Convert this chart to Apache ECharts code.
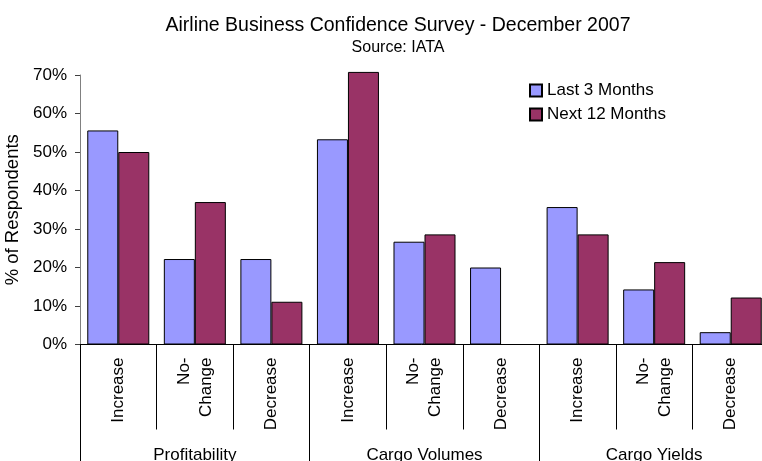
<!DOCTYPE html>
<html>
<head>
<meta charset="utf-8">
<script src="https://cdn.jsdelivr.net/npm/echarts@6/dist/echarts.min.js"></script>
<style>
html,body{margin:0;padding:0;background:#fff;}
#chart{width:762px;height:461px;}
</style>
</head>
<body>
<div id="chart"></div>
<script>
var categories = ['Increase','No-\nChange','Decrease','Increase','No-\nChange','Decrease','Increase','No-\nChange','Decrease'];
var groups = ['Profitability','Cargo Volumes','Cargo Yields'];
var last3Months = [55.6, 22.2, 22.2, 53.3, 26.7, 20.0, 35.7, 14.3, 3.2];
var next12Months = [50.0, 37.0, 11.1, 70.8, 28.6, null, 28.6, 21.4, 12.2];
var yTicks = {min: 0, max: 70, interval: 10};

var FONT = 'Liberation Sans, Arial, sans-serif';
var chart = echarts.init(document.getElementById('chart'), null, {renderer: 'canvas'});
chart.setOption({
  animation: false,
  backgroundColor: '#ffffff',
  textStyle: {fontFamily: FONT},
  title: {
    text: 'Airline Business Confidence Survey - December 2007',
    subtext: 'Source: IATA',
    left: 393, top: 11, textAlign: 'center',
    itemGap: 4,
    textStyle: {fontFamily: FONT, fontSize: 19.5, fontWeight: 'normal', color: '#000'},
    subtextStyle: {fontFamily: FONT, fontSize: 16, color: '#000'}
  },
  legend: {
    orient: 'vertical',
    left: 529, top: 82, padding: 0,
    itemWidth: 12, itemHeight: 12, itemGap: 7,
    textStyle: {fontFamily: FONT, fontSize: 17, color: '#000'},
    data: [
      {name: 'Last 3 Months', icon: 'rect'},
      {name: 'Next 12 Months', icon: 'rect'}
    ]
  },
  grid: {left: 80, top: 75, right: -7, bottom: 116.5, outerBoundsMode: 'none', containLabel: false},
  xAxis: [{
    type: 'category',
    data: categories,
    position: 'bottom',
    axisLine: {show: true, lineStyle: {color: '#000', width: 1}},
    axisTick: {show: true, length: 85, interval: 0, lineStyle: {color: '#000'}},
    axisLabel: {
      interval: 0, rotate: 90, margin: 13,
      fontFamily: FONT, fontSize: 17, color: '#000', lineHeight: 22
    }
  }, {
    type: 'category',
    data: groups,
    position: 'bottom',
    axisLine: {show: false},
    axisTick: {show: true, length: 125, interval: 0, lineStyle: {color: '#000'}},
    axisLabel: {interval: 0, margin: 102, fontFamily: FONT, fontSize: 17, color: '#000'}
  }],
  yAxis: {
    type: 'value',
    min: yTicks.min, max: yTicks.max, interval: yTicks.interval,
    name: '% of Respondents',
    nameLocation: 'middle', nameGap: 55, nameRotate: 90,
    nameTextStyle: {fontFamily: FONT, fontSize: 18.5, color: '#000'},
    axisLine: {show: true, lineStyle: {color: '#808080'}},
    axisTick: {show: true, length: 5, lineStyle: {color: '#404040'}},
    splitLine: {show: false},
    axisLabel: {formatter: '{value}%', margin: 13, fontFamily: FONT, fontSize: 17, color: '#000'}
  },
  series: [{
    name: 'Last 3 Months', type: 'bar', data: last3Months,
    barGap: '0%', barCategoryGap: '19%', clip: false,
    itemStyle: {color: '#9999FF', borderColor: '#000', borderWidth: 1}
  }, {
    name: 'Next 12 Months', type: 'bar', data: next12Months,
    barGap: '0%', barCategoryGap: '19%', clip: false,
    itemStyle: {color: '#993366', borderColor: '#000', borderWidth: 1}
  }]
});
</script>
</body>
</html>
